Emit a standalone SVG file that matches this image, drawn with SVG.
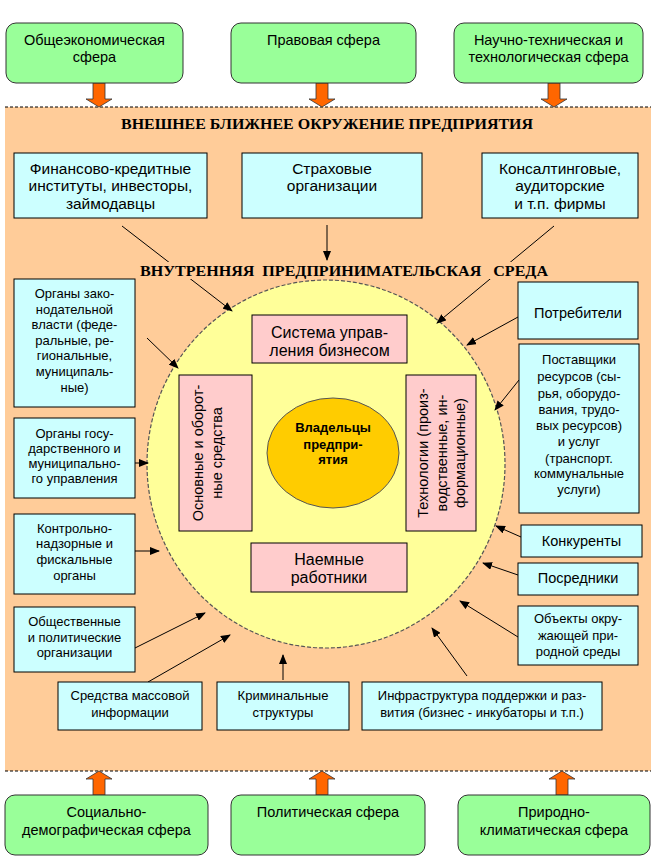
<svg xmlns="http://www.w3.org/2000/svg" width="653" height="860" viewBox="0 0 653 860">
<style>
.t{font-family:"Liberation Sans",Arial,sans-serif;fill:#000;text-anchor:middle}
.g{font-size:14.5px}
.c{font-size:15.5px}
.s{font-size:13px}
.m{font-size:14.5px}
.p{font-size:16px}
.v{font-size:14.5px}
.h{font-family:"Liberation Serif","Times New Roman",serif;font-weight:bold;font-size:15px;fill:#000;text-anchor:middle}
.green{fill:#99FF99;stroke:#333;stroke-width:1}
.cyan{fill:#CCFFFF;stroke:#000;stroke-width:1}
.pink{fill:#FFCCCC;stroke:#000;stroke-width:1}
.barrow{fill:#FF6600;stroke:#333;stroke-width:0.8}
.ln{stroke:#000;stroke-width:1;fill:none;marker-end:url(#ah)}
</style>
<defs>
<marker id="ah" markerWidth="10" markerHeight="8" refX="9" refY="4" orient="auto" markerUnits="userSpaceOnUse">
<path d="M0,0 L10,4 L0,8 z" fill="#000"/>
</marker>
</defs>
<rect width="653" height="860" fill="#fff"/>
<!-- band -->
<g id="band">
<rect x="5" y="107" width="646" height="664" fill="#FFCC99"/>
<line x1="5" y1="107" x2="651" y2="107" stroke="#000" stroke-width="1" stroke-dasharray="3 2"/>
<line x1="5" y1="771" x2="651" y2="771" stroke="#000" stroke-width="1" stroke-dasharray="3 2"/>
<text class="h" x="327" y="129" textLength="412" lengthAdjust="spacingAndGlyphs">ВНЕШНЕЕ БЛИЖНЕЕ ОКРУЖЕНИЕ ПРЕДПРИЯТИЯ</text>
</g>
<!-- block arrows -->
<g id="block-arrows">
<path class="barrow" d="M93,83 H105 V99 H112 L99,107 L86,99 H93 Z"/>
<path class="barrow" d="M316,83 H328 V99 H335 L322,107 L309,99 H316 Z"/>
<path class="barrow" d="M548,83 H560 V99 H567 L554,107 L541,99 H548 Z"/>
<path class="barrow" d="M93,795 H105 V779 H112 L99,771 L86,779 H93 Z"/>
<path class="barrow" d="M316,795 H328 V779 H335 L322,771 L309,779 H316 Z"/>
<path class="barrow" d="M556,795 H568 V779 H575 L562,771 L549,779 H556 Z"/>
</g>
<!-- top spheres -->
<g id="sphere-econ"><rect class="green" x="6" y="23" width="177" height="60" rx="10"/>
<text class="t g" x="94.5" y="45">Общеэкономическая</text><text class="t g" x="94.5" y="62">сфера</text></g>
<g id="sphere-law"><rect class="green" x="231" y="23" width="185" height="60" rx="10"/>
<text class="t g" x="323.5" y="45">Правовая сфера</text></g>
<g id="sphere-tech"><rect class="green" x="454" y="23" width="189" height="60" rx="10"/>
<text class="t g" x="548.5" y="45">Научно-техническая и</text><text class="t g" x="548.5" y="62">технологическая сфера</text></g>
<!-- bottom spheres -->
<g id="sphere-social"><rect class="green" x="5" y="795" width="203" height="60" rx="10"/>
<text class="t g" x="106.5" y="817">Социально-</text><text class="t g" x="106.5" y="835">демографическая сфера</text></g>
<g id="sphere-polit"><rect class="green" x="231" y="795" width="194" height="60" rx="10"/>
<text class="t g" x="328" y="817">Политическая сфера</text></g>
<g id="sphere-nature"><rect class="green" x="458" y="795" width="192" height="60" rx="10"/>
<text class="t g" x="554" y="817">Природно-</text><text class="t g" x="554" y="835">климатическая сфера</text></g>
<!-- inner circle -->
<g id="inner-env">
<ellipse cx="326" cy="464" rx="179" ry="184" fill="#FFFF99" stroke="#555" stroke-width="1.2" stroke-dasharray="4 2"/>
</g>
<!-- connectors -->
<g id="connectors">
<line class="ln" x1="122" y1="226" x2="232" y2="311"/>
<line class="ln" x1="327" y1="225" x2="327" y2="260"/>
<line class="ln" x1="554" y1="226" x2="437" y2="323"/>
<line class="ln" x1="518" y1="317" x2="467" y2="345"/>
<line class="ln" x1="519" y1="380" x2="495" y2="410"/>
<line class="ln" x1="147" y1="338" x2="178" y2="368"/>
<line class="ln" x1="135" y1="463" x2="148" y2="463"/>
<line class="ln" x1="135" y1="551" x2="159" y2="551"/>
<line class="ln" x1="135" y1="648" x2="205" y2="613"/>
<line class="ln" x1="148" y1="682" x2="230" y2="635"/>
<line class="ln" x1="283" y1="680" x2="283" y2="655"/>
<line class="ln" x1="467" y1="676" x2="432" y2="628"/>
<line class="ln" x1="518" y1="637" x2="460" y2="601"/>
<line class="ln" x1="518" y1="575" x2="483" y2="563"/>
<line class="ln" x1="521" y1="537" x2="496" y2="526"/>
</g>
<g id="inner-title">
<rect x="138" y="262" width="413" height="17" fill="#FFCC99"/>
<text class="h" x="344" y="276" textLength="408" lengthAdjust="spacingAndGlyphs" xml:space="preserve">ВНУТРЕННЯЯ  ПРЕДПРИНИМАТЕЛЬСКАЯ   СРЕДА</text>
</g>
<!-- outer nodes -->
<g id="finance"><rect class="cyan" x="14" y="153" width="193" height="65"/>
<text class="t c" x="110.5" y="173.5">Финансово-кредитные</text><text class="t c" x="110.5" y="191">институты, инвесторы,</text><text class="t c" x="110.5" y="208.5">займодавцы</text></g>
<g id="insurance"><rect class="cyan" x="242" y="153" width="180" height="65"/>
<text class="t c" x="332" y="173.5">Страховые</text><text class="t c" x="332" y="191">организации</text></g>
<g id="consulting"><rect class="cyan" x="482" y="153" width="156" height="65"/>
<text class="t c" x="560" y="173.5">Консалтинговые,</text><text class="t c" x="560" y="191">аудиторские</text><text class="t c" x="560" y="208.5">и т.п. фирмы</text></g>
<g id="legislative"><rect class="cyan" x="14" y="279" width="121" height="128"/>
<text class="t s" x="74.5" y="297.5">Органы зако-</text><text class="t s" x="74.5" y="313.5">нодательной</text><text class="t s" x="74.5" y="328.5">власти (феде-</text><text class="t s" x="74.5" y="344.5">ральные, ре-</text><text class="t s" x="74.5" y="359.5">гиональные,</text><text class="t s" x="74.5" y="375.5">муниципаль-</text><text class="t s" x="74.5" y="391.5">ные)</text></g>
<g id="government"><rect class="cyan" x="14" y="418" width="121" height="80"/>
<text class="t s" x="74.5" y="437.5">Органы госу-</text><text class="t s" x="74.5" y="452.5">дарственного и</text><text class="t s" x="74.5" y="467.5">муниципально-</text><text class="t s" x="74.5" y="482.5">го управления</text></g>
<g id="control"><rect class="cyan" x="14" y="514" width="121" height="80"/>
<text class="t s" x="74.5" y="532.5">Контрольно-</text><text class="t s" x="74.5" y="547.5">надзорные и</text><text class="t s" x="74.5" y="563.5">фискальные</text><text class="t s" x="74.5" y="579.5">органы</text></g>
<g id="public"><rect class="cyan" x="14" y="607" width="121" height="65"/>
<text class="t s" x="74.5" y="625.5">Общественные</text><text class="t s" x="74.5" y="641.5">и политические</text><text class="t s" x="74.5" y="656.5">организации</text></g>
<g id="media"><rect class="cyan" x="58" y="682" width="144" height="48"/>
<text class="t s" x="130" y="699.5">Средства массовой</text><text class="t s" x="130" y="716.5">информации</text></g>
<g id="criminal"><rect class="cyan" x="217" y="682" width="132" height="48"/>
<text class="t s" x="283" y="699.5">Криминальные</text><text class="t s" x="283" y="716.5">структуры</text></g>
<g id="infrastructure"><rect class="cyan" x="362" y="682" width="240" height="48"/>
<text class="t s" x="482" y="699.5">Инфраструктура поддержки и раз-</text><text class="t s" x="482" y="716.5">вития (бизнес - инкубаторы и т.п.)</text></g>
<g id="nature-objects"><rect class="cyan" x="518" y="606" width="120" height="59"/>
<text class="t s" x="578" y="622.5">Объекты окру-</text><text class="t s" x="578" y="639.5">жающей при-</text><text class="t s" x="578" y="655.5">родной среды</text></g>
<g id="intermediaries"><rect class="cyan" x="518" y="563" width="120" height="32"/>
<text class="t m" x="578" y="583">Посредники</text></g>
<g id="competitors"><rect class="cyan" x="521" y="525" width="121" height="32"/>
<text class="t m" x="581.5" y="546">Конкуренты</text></g>
<g id="consumers"><rect class="cyan" x="518" y="282" width="120" height="57"/>
<text class="t m" x="578" y="318">Потребители</text></g>
<g id="suppliers"><rect class="cyan" x="519" y="344" width="120" height="169"/>
<text class="t s" x="579" y="363.5">Поставщики</text><text class="t s" x="579" y="380.5">ресурсов (сы-</text><text class="t s" x="579" y="397.5">рья, оборудо-</text><text class="t s" x="579" y="413.5">вания, трудо-</text><text class="t s" x="579" y="429.5">вых ресурсов)</text><text class="t s" x="579" y="445.5">и услуг</text><text class="t s" x="579" y="462.5">(транспорт.</text><text class="t s" x="579" y="477.5">коммунальные</text><text class="t s" x="579" y="493.5">услуги)</text></g>
<!-- inner nodes -->
<g id="management"><rect class="pink" x="252" y="315" width="155" height="48"/>
<text class="t p" x="329.5" y="338">Система управ-</text><text class="t p" x="329.5" y="356">ления бизнесом</text></g>
<g id="assets"><rect class="pink" x="179" y="375" width="73" height="156"/>
<text class="t v" transform="translate(203,453) rotate(-90)">Основные и оборот-</text>
<text class="t v" transform="translate(222,453) rotate(-90)">ные средства</text></g>
<g id="technology"><rect class="pink" x="406" y="375" width="70" height="156"/>
<text class="t v" transform="translate(428,453) rotate(-90)">Технологии (произ-</text>
<text class="t v" transform="translate(447,453) rotate(-90)">водственные, ин-</text>
<text class="t v" transform="translate(465,453) rotate(-90)">формационные)</text></g>
<g id="employees"><rect class="pink" x="251" y="543" width="156" height="49"/>
<text class="t p" x="329" y="565">Наемные</text><text class="t p" x="329" y="583">работники</text></g>
<g id="owners"><ellipse cx="333" cy="453" rx="66" ry="55" fill="#FFCC00" stroke="#555" stroke-width="1"/>
<text class="t" style="font-size:13px;font-weight:bold" x="333" y="431.5">Владельцы</text><text class="t" style="font-size:13px;font-weight:bold" x="333" y="448.5">предпри-</text><text class="t" style="font-size:13px;font-weight:bold" x="333" y="463.5">ятия</text></g>
</svg>
